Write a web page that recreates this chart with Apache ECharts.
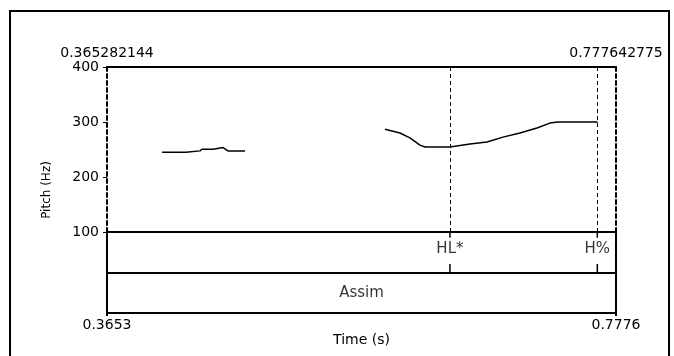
<!DOCTYPE html>
<html>
<head>
<meta charset="utf-8">
<script src="https://cdn.jsdelivr.net/npm/echarts@6/dist/echarts.min.js"></script>
<style>
  html, body { margin: 0; background: #fff; }
  #main { width: 674px; height: 356px; }
</style>
</head>
<body>
<div id="main"></div>
<script>
// time window of the selection (s)
const timeMin = 0.365282144;
const timeMax = 0.777642775;
const topTickLabels = ['0.365282144', '0.777642775'];
const bottomTickLabels = ['0.3653', '0.7776'];
const pitchTicks = [100, 200, 300, 400];

// pitch track (null = unvoiced gap)
const pitchTime = [0.4099, 0.4293, 0.4309, 0.4406, 0.4423, 0.4512, 0.4528, 0.4593, 0.4633, 0.4771,
  0.53,
  0.5905, 0.6026, 0.6107, 0.6188, 0.6229, 0.6431, 0.6593, 0.6731, 0.6861, 0.6998, 0.7136, 0.7241, 0.7306, 0.7628];
const pitchHz = [245, 245, 247.5, 247.5, 250.5, 250.5, 253.5, 253.5, 247.5, 247.5,
  null,
  287, 280, 271, 258, 254.5, 254.5, 260, 263.5, 272.5, 280, 289, 298, 300, 300];

// tone tier points
const toneLabels = ['HL*', 'H%'];
const toneTimes = [0.6431, 0.7625];
// word tier interval
const wordLabels = ['Assim'];
const wordStart = [0.365282144];
const wordEnd = [0.777642775];

const chart = echarts.init(document.getElementById('main'), null, { renderer: 'canvas' });

const font = 'DejaVu Sans';
const black = '#000';

const pitchData = pitchTime.map((t, i) => [t, pitchHz[i] == null ? '-' : pitchHz[i]]);

const tierLabels = [];
toneTimes.forEach((t, i) => tierLabels.push([t, 1.58, toneLabels[i]]));
wordLabels.forEach((w, i) => tierLabels.push([(wordStart[i] + wordEnd[i]) / 2, 0.5, w]));

// short marks of each tone point in the tone tier, above and below its label
const toneTickData = [];
toneTimes.forEach(t => {
  toneTickData.push([t, 2], [t, 1.86], [t, '-'], [t, 1.21], [t, 1], [t, '-']);
});

const option = {
  animation: false,
  backgroundColor: '#fff',
  textStyle: { fontFamily: font, fontSize: 13, color: black },
  graphic: [{
    type: 'rect',
    shape: { x: 10, y: 11, width: 659, height: 360 },
    style: { fill: 'none', stroke: black, lineWidth: 2 }
  }],
  grid: [
    { left: 107, top: 67, width: 509, height: 165 },
    { left: 107, top: 232, width: 509, height: 81, show: true, borderColor: black, borderWidth: 2 },
    { left: 107, top: 67, width: 509, height: 246 }
  ],
  xAxis: [
    {
      gridIndex: 0, type: 'value', position: 'top', min: timeMin, max: timeMax,
      axisLine: { show: true, onZero: false, lineStyle: { color: black, width: 2 } },
      axisTick: { show: false },
      splitLine: { show: false },
      axisLabel: {
        customValues: [timeMin, timeMax], margin: 7, color: black, fontFamily: font, fontSize: 14,
        formatter: v => (Math.abs(v - timeMin) < 1e-6 ? topTickLabels[0] : topTickLabels[1])
      }
    },
    {
      gridIndex: 1, type: 'value', position: 'bottom', min: timeMin, max: timeMax,
      name: 'Time (s)', nameLocation: 'middle', nameGap: 20,
      nameTextStyle: { color: black, fontFamily: font, fontSize: 14 },
      axisLine: { show: false },
      axisTick: { show: true, customValues: [timeMin, timeMax], length: 3, lineStyle: { color: black, width: 2 } },
      splitLine: { show: false },
      axisLabel: {
        customValues: [timeMin, timeMax], margin: 5, color: black, fontFamily: font, fontSize: 14,
        formatter: v => (Math.abs(v - timeMin) < 1e-6 ? bottomTickLabels[0] : bottomTickLabels[1])
      }
    },
    { gridIndex: 2, type: 'value', min: timeMin, max: timeMax, show: false }
  ],
  yAxis: [
    {
      gridIndex: 0, type: 'value', position: 'left', min: 100, max: 400, interval: 100,
      axisLine: { show: true, onZero: false, lineStyle: { color: black, width: 2, type: [4, 3] } },
      axisTick: { show: true, length: 4, lineStyle: { color: black } },
      splitLine: { show: false },
      axisLabel: {
        margin: 8, color: black, fontFamily: font, fontSize: 14,
        formatter: v => (pitchTicks.includes(v) ? String(v) : '')
      }
    },
    {
      gridIndex: 0, type: 'value', position: 'right', min: 100, max: 400,
      axisLine: { show: true, onZero: false, lineStyle: { color: black, width: 2, type: [4, 3] } },
      axisTick: { show: false }, axisLabel: { show: false }, splitLine: { show: false }
    },
    {
      gridIndex: 1, type: 'value', min: 0, max: 2, interval: 1,
      axisLine: { show: false }, axisTick: { show: false }, axisLabel: { show: false },
      splitLine: { show: true, lineStyle: { color: black, width: 2 } }
    },
    {
      gridIndex: 2, type: 'value', min: 0, max: 1,
      name: 'Pitch (Hz)', nameLocation: 'middle', nameGap: 54,
      nameTextStyle: { color: black, fontFamily: font, fontSize: 12 },
      axisLine: { show: false }, axisTick: { show: false }, axisLabel: { show: false },
      splitLine: { show: false }
    }
  ],
  series: [
    {
      name: 'Pitch', type: 'line', xAxisIndex: 0, yAxisIndex: 0,
      data: pitchData, symbol: 'none', connectNulls: false,
      lineStyle: { color: black, width: 1.5 },
      markLine: {
        silent: true, precision: 6, symbol: ['none', 'none'], label: { show: false },
        lineStyle: { color: black, width: 1, type: [4, 3] },
        data: toneTimes.map(t => ({ xAxis: t }))
      }
    },
    {
      name: 'Tone marks', type: 'line', xAxisIndex: 1, yAxisIndex: 2,
      data: toneTickData, symbol: 'none', connectNulls: false, clip: false,
      lineStyle: { color: black, width: 1.5 }
    },
    {
      name: 'Tier labels', type: 'scatter', xAxisIndex: 1, yAxisIndex: 2,
      data: tierLabels, symbolSize: 0,
      label: {
        show: true, position: 'inside', color: black, fontFamily: font, fontSize: 15,
        formatter: p => p.value[2]
      }
    }
  ]
};

chart.setOption(option);
</script>
</body>
</html>
